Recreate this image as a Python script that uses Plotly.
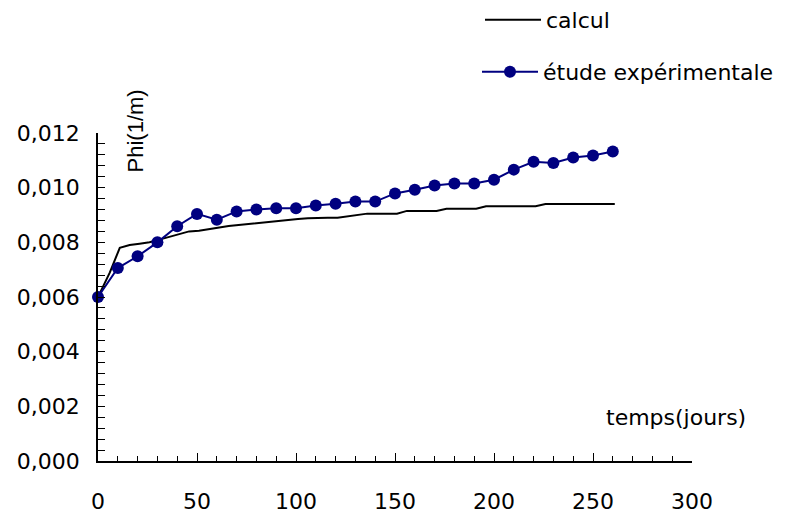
import plotly.graph_objects as go

# étude expérimentale (points tous les 10 jours)
jours_exp = [0, 10, 20, 30, 40, 50, 60, 70, 80, 90, 100, 110, 120, 130, 140,
             150, 160, 170, 180, 190, 200, 210, 220, 230, 240, 250, 260]
phi_exp = [0.0060, 0.00706, 0.00749, 0.0080, 0.00859, 0.00904, 0.00883, 0.00913,
           0.0092, 0.00925, 0.00925, 0.00935, 0.00941, 0.00949, 0.00949, 0.00979,
           0.00992, 0.01008, 0.01015, 0.01015, 0.01029, 0.01066, 0.01095, 0.0109,
           0.0111, 0.01118, 0.01132]

# calcul
jours_calc = [0, 6, 11, 16, 21, 26, 31, 36, 41, 46,
              51, 56, 61, 66, 71, 76, 81, 86, 91, 96,
              101, 106, 111, 116, 121, 126, 131, 136, 141, 146,
              151, 156, 161, 166, 171, 176, 181, 186, 191, 196,
              201, 206, 211, 216, 221, 226, 231, 236, 241, 246,
              251, 256, 261]
phi_calc = [0.0060, 0.0069, 0.0078, 0.0079, 0.00795, 0.0080, 0.0081, 0.0082, 0.0083, 0.0084,
            0.00842, 0.00848, 0.00855, 0.0086, 0.00863, 0.00867, 0.0087, 0.00874, 0.00878, 0.00882,
            0.00885, 0.00888, 0.0089, 0.0089, 0.0089, 0.00895, 0.0090, 0.00905, 0.00905, 0.00905,
            0.00905, 0.00915, 0.00915, 0.00915, 0.00915, 0.00923, 0.00923, 0.00923, 0.00923, 0.00932,
            0.00932, 0.00932, 0.00932, 0.00932, 0.00932, 0.0094, 0.0094, 0.0094, 0.0094, 0.0094,
            0.0094, 0.0094, 0.0094]

FONT = "DejaVu Sans"

fig = go.Figure()
fig.add_trace(go.Scatter(
    x=jours_calc, y=phi_calc, name="calcul", mode="lines",
    line=dict(color="black", width=2), cliponaxis=False, legend="legend"
))
fig.add_trace(go.Scatter(
    x=jours_exp, y=phi_exp, name="étude expérimentale", mode="lines+markers",
    line=dict(color="#000080", width=2),
    marker=dict(color="#000080", size=12, symbol="circle"),
    cliponaxis=False, legend="legend2"
))

axis_common = dict(
    showline=True, linecolor="black", linewidth=1.5, mirror=False,
    showgrid=False, zeroline=False, automargin=False,
    ticks="inside", tickcolor="black", tickwidth=1.2,
    tickfont=dict(family=FONT, size=22, color="black"),
)

legend_common = dict(
    xref="container", yref="container", xanchor="left", yanchor="middle",
    bgcolor="rgba(0,0,0,0)", font=dict(family=FONT, size=22, color="black"),
    itemwidth=56,
)

# the page body adds an 8px offset, margins are set to compensate
fig.update_layout(
    width=786, height=513,
    margin=dict(l=90, r=102, t=125, b=60, autoexpand=False),
    paper_bgcolor="white", plot_bgcolor="white",
    separators=", ",
    showlegend=True,
    xaxis=dict(range=[0, 300], tick0=0, dtick=50, ticklen=8, ticklabelstandoff=20,
               minor=dict(dtick=10, ticks="inside", ticklen=5, tickcolor="black", tickwidth=1.2),
               **axis_common),
    yaxis=dict(range=[0, 0.012], tick0=0, dtick=0.002, tickformat=".3f", ticklen=7,
               ticklabelstandoff=12,
               minor=dict(dtick=0.0004, ticks="inside", ticklen=7, tickcolor="black", tickwidth=1.2),
               **axis_common),
    legend=dict(x=472 / 786, y=1 - 12 / 513, **legend_common),
    legend2=dict(x=469 / 786, y=1 - 64 / 513, **legend_common),
    annotations=[
        dict(text="Phi(1/m)", x=0.063, y=1.006, xref="paper", yref="paper",
             xanchor="center", yanchor="middle",
             textangle=-90, showarrow=False,
             font=dict(family="Liberation Sans", size=22, color="black")),
        dict(text="temps(jours)", x=0.973, y=0.133, xref="paper", yref="paper",
             xanchor="center", yanchor="middle",
             showarrow=False, font=dict(family=FONT, size=22, color="black")),
    ],
)

fig.write_html("out.html")
